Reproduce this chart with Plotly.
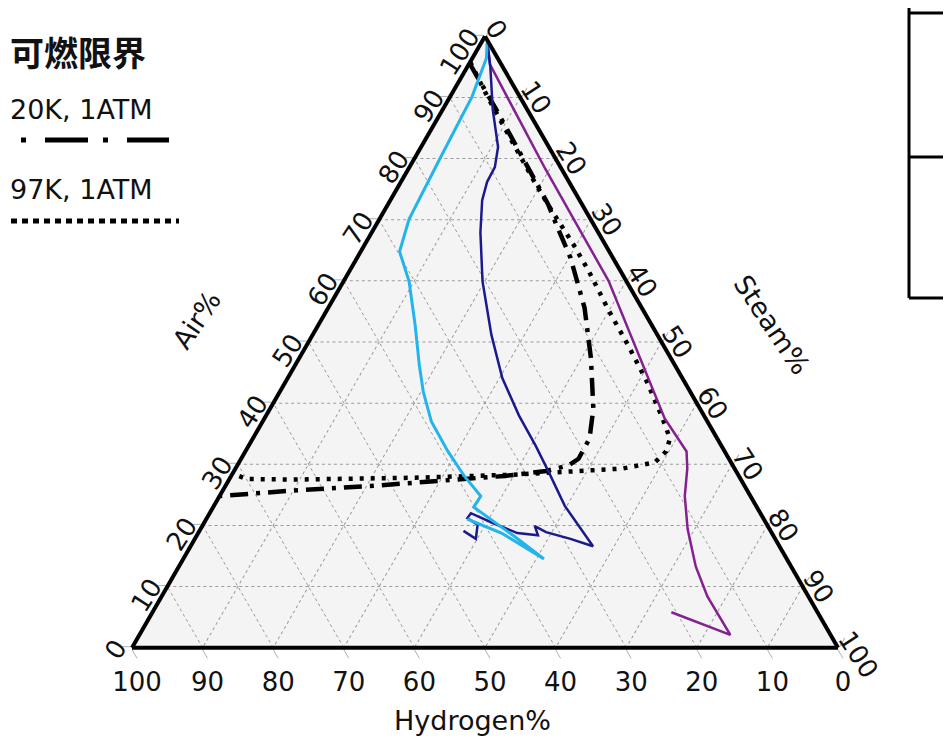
import plotly.graph_objects as go

# ---------------- data (percent: Air, Hydrogen, Steam) ----------------
lb_air = [99.0, 96.4, 90.1, 80.3, 70.1, 64.8, 59.9, 52.8, 46.2, 41.9, 37.0, 32.1, 28.1, 24.8, 23.0, 18.3, 14.5, 18.75, 21.05]
lb_h2 = [0.2, 1.6, 6.8, 16.1, 25.7, 29.7, 30.8, 33.5, 36.2, 37.8, 39.1, 39.2, 38.9, 38.2, 40.1, 36.8, 34.4, 38.3, 42.0]
lb_steam = [0.8, 2.0, 3.1, 3.6, 4.2, 5.5, 9.3, 13.7, 17.6, 20.3, 23.9, 28.7, 33.0, 37.0, 36.9, 44.9, 51.1, 42.95, 36.95]

nv_air = [98.4, 95.1, 88.0, 81.9, 78.6, 76.2, 73.2, 67.9, 59.9, 51.2, 44.1, 38.0, 33.1, 28.8, 23.2, 16.6, 17.8, 18.9, 19.9, 18.4, 18.75, 20.4, 22.0, 21.2, 20.1, 17.8, 19.1]
nv_h2 = [0.4, 1.7, 4.9, 7.2, 9.3, 11.6, 13.8, 16.7, 20.4, 23.5, 25.5, 26.2, 26.3, 26.6, 27.1, 26.4, 29.0, 31.9, 33.0, 33.3, 36.05, 38.7, 41.0, 41.9, 41.0, 42.4, 43.5]
nv_steam = [1.2, 3.2, 7.1, 10.9, 12.1, 12.2, 13.0, 15.4, 19.7, 25.3, 30.4, 35.8, 40.6, 44.6, 49.7, 57.0, 53.2, 49.2, 47.1, 48.3, 45.2, 40.9, 37.0, 36.9, 38.9, 39.8, 37.4]

pu_air = [98.7, 95.4, 78.3, 60.0, 37.5, 32.1, 29.3, 24.8, 19.4, 13.3, 8.4, 2.1, 5.8]
pu_h2 = [0.3, 1.6, 2.3, 2.5, 5.8, 5.4, 6.7, 9.3, 11.6, 13.5, 14.3, 14.2, 20.7]
pu_steam = [1.0, 3.0, 19.4, 37.5, 56.7, 62.5, 64.0, 65.9, 69.0, 73.2, 77.3, 83.7, 73.5]

# flammability limit, "20K, 1ATM" (dash-dot)
fl1_air = [95.6, 91.8, 88.0, 84.0, 79.8, 76.5, 72.5, 69.2, 63.8, 55.6, 47.4, 39.1, 34.2, 30.9, 29.8, 28.9, 28.1, 27.5, 26.5, 25.7, 24.8]
fl1_h2 = [4.4, 4.4, 4.4, 4.5, 4.6, 4.7, 4.8, 5.3, 6.0, 8.1, 11.3, 15.1, 18.1, 21.3, 23.3, 26.9, 33.1, 40.3, 52.4, 64.4, 75.2]
fl1_steam = [0.0, 3.8, 7.6, 11.5, 15.6, 18.8, 22.7, 25.5, 30.2, 36.3, 41.3, 45.8, 47.7, 47.8, 46.9, 44.2, 38.8, 32.2, 21.1, 9.9, 0.0]

# flammability limit, "97K, 1ATM" (dotted)
fl2_air = [95.8, 90.1, 85.7, 80.8, 75.8, 71.5, 66.0, 61.7, 55.1, 49.5, 43.6, 37.5, 34.2, 32.1, 30.3, 29.3, 28.8, 28.3, 27.8, 27.5, 27.6, 28.5]
fl2_h2 = [4.2, 4.6, 4.7, 4.8, 4.9, 4.8, 4.5, 4.5, 4.9, 5.0, 5.3, 6.1, 6.7, 8.3, 10.8, 15.9, 23.8, 31.8, 46.0, 63.5, 70.0, 71.5]
fl2_steam = [0.0, 5.3, 9.6, 14.4, 19.3, 23.7, 29.5, 33.8, 40.0, 45.5, 51.1, 56.4, 59.1, 59.6, 58.9, 54.8, 47.4, 39.9, 26.2, 9.0, 2.4, 0.0]

axis_ticks = [0, 10, 20, 30, 40, 50, 60, 70, 80, 90, 100]
axis_titles = ["Air%", "Hydrogen%", "Steam%"]
legend_title = "可燃限界"
legend_labels = ["20K, 1ATM", "97K, 1ATM"]

# ---------------- figure ----------------
# the page body has an 8px margin; positions below are given in window pixels
OFF = 8
W, H = 943, 730
FONT = "DejaVu Sans"

fig = go.Figure()

def add_line(a, b, c, color, width, dash="solid"):
    fig.add_trace(go.Scatterternary(
        a=a, b=b, c=c, mode="lines",
        line=dict(color=color, width=width, dash=dash),
        hoverinfo="skip", showlegend=False,
    ))

add_line(fl1_air, fl1_h2, fl1_steam, "#000000", 4.5, "18px,8px,4px,8px")
add_line(fl2_air, fl2_h2, fl2_steam, "#000000", 4.5, "4px,7px")
add_line(pu_air, pu_h2, pu_steam, "#84208f", 2.5)
add_line(nv_air, nv_h2, nv_steam, "#1a1a8c", 2.5)
add_line(lb_air, lb_h2, lb_steam, "#22b4ea", 3)

def px(x):
    return (x - OFF) / W

def py(y):
    return 1 - (y - OFF) / H

axis_common = dict(
    min=0, tickmode="array", tickvals=axis_ticks, ticktext=[str(t) for t in axis_ticks],
    showgrid=True, gridcolor="#9a9a9a", gridwidth=1, griddash="dot",
    showline=True, linecolor="#000000", linewidth=4,
    ticks="outside", ticklen=10, tickcolor="#b0b0b0", tickwidth=1,
    tickfont=dict(family=FONT, size=26, color="#111111"),
    title=dict(text=""),
)

fig.update_layout(
    width=W, height=H,
    margin=dict(l=0, r=0, t=0, b=0),
    paper_bgcolor="white",
    hovermode=False,
    ternary=dict(
        sum=100,
        bgcolor="#f4f4f4",
        domain=dict(x=[px(132), px(838)], y=[py(648), py(36)]),
        aaxis=dict(axis_common, tickangle=-57),
        baxis=dict(axis_common),
        caxis=dict(axis_common, tickangle=57),
    ),
    showlegend=False,
)

ann_font = dict(family=FONT, size=27, color="#111111")
fig.add_annotation(text=axis_titles[0], x=px(196), y=py(320), xref="paper", yref="paper",
                   xanchor="center", yanchor="middle",
                   showarrow=False, textangle=-56, font=ann_font)
fig.add_annotation(text=axis_titles[2], x=px(772), y=py(324), xref="paper", yref="paper",
                   xanchor="center", yanchor="middle",
                   showarrow=False, textangle=56, font=ann_font)
fig.add_annotation(text=axis_titles[1], x=px(472), y=py(720), xref="paper", yref="paper",
                   xanchor="center", yanchor="middle",
                   showarrow=False, font=ann_font)

# legend block (top-left)
leg_font = dict(family=FONT, size=27, color="#111111")
fig.add_annotation(text="<b>" + legend_title + "</b>", x=px(8), y=py(52), xref="paper", yref="paper",
                   xanchor="left", yanchor="middle", showarrow=False,
                   font=dict(family="Noto Sans CJK JP", size=34, color="#111111"))
fig.add_annotation(text=legend_labels[0], x=px(8), y=py(110), xref="paper", yref="paper",
                   xanchor="left", yanchor="middle", showarrow=False, font=leg_font)
fig.add_annotation(text=legend_labels[1], x=px(8), y=py(190), xref="paper", yref="paper",
                   xanchor="left", yanchor="middle", showarrow=False, font=leg_font)
fig.add_shape(type="line", xref="paper", yref="paper", x0=px(-37), x1=px(169), y0=py(140), y1=py(140),
              line=dict(color="#000000", width=5, dash="43px,15px,5px,19px"))
fig.add_shape(type="line", xref="paper", yref="paper", x0=px(0), x1=px(179), y0=py(221), y1=py(221),
              line=dict(color="#000000", width=5, dash="6px,5px"))

# partial box at top-right
for (x0, y0, x1, y1) in [(909, -5, 909, 298), (909, 298, 960, 298), (909, 157, 960, 157), (909, 13, 960, 13)]:
    fig.add_shape(type="line", xref="paper", yref="paper", x0=px(x0), x1=px(x1), y0=py(y0), y1=py(y1),
                  line=dict(color="#000000", width=3))

fig.write_html("out.html")
